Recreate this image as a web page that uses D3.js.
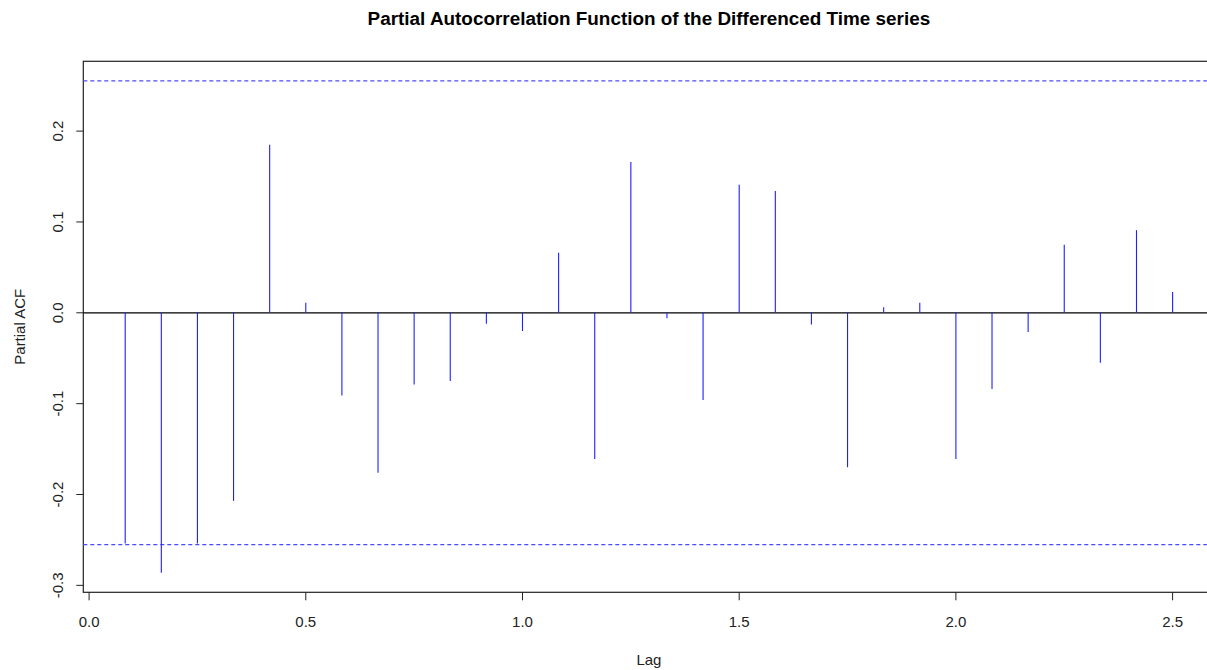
<!DOCTYPE html>
<html lang="en">
<head>
    <meta charset="UTF-8">
    <title>Partial Autocorrelation Function of the Differenced Time series</title>
    <script src="https://d3js.org/d3.v7.min.js"></script>
    <style>
        html, body { margin: 0; padding: 0; background: #fff; overflow: hidden; }
        svg { display: block; font-family: "Liberation Sans", Arial, sans-serif; }
        .tick-label { font-size: 15px; fill: #222; }
        .axis-title { font-size: 15px; fill: #222; }
        .title { font-size: 18.9px; font-weight: bold; fill: #000; }
    </style>
</head>
<body>
<div id="chart"></div>
<script>
    // lags in years (monthly series, frequency 12)
    const lagIndex = d3.range(1, 31);
    const lags = lagIndex.map(k => k / 12);
    const pacf = [
        -0.254, -0.286, -0.254, -0.207, 0.185, 0.011, -0.091, -0.176, -0.079, -0.075,
        -0.012, -0.020, 0.066, -0.161, 0.166, -0.006, -0.096, 0.141, 0.134, -0.013,
        -0.170, 0.006, 0.011, -0.161, -0.084, -0.021, 0.075, -0.055, 0.091, 0.023
    ];
    const ciBound = 0.2552;
    const xTicks = [0.0, 0.5, 1.0, 1.5, 2.0, 2.5];
    const yTicks = [-0.3, -0.2, -0.1, 0.0, 0.1, 0.2];

    const width = 1207, height = 670;
    const plot = { left: 83.3, top: 61.3, right: 1214.5, bottom: 592.3 };

    const svg = d3.select("#chart").append("svg")
        .attr("width", width)
        .attr("height", height);

    // R-style 4% axis extension
    const xr = d3.extent(lags), xpad = (xr[1] - xr[0]) * 0.04;
    const yr = d3.extent(pacf.concat([ciBound, -ciBound])), ypad = (yr[1] - yr[0]) * 0.04;

    const x = d3.scaleLinear().domain([xr[0] - xpad, xr[1] + xpad]).range([plot.left, plot.right]);
    const y = d3.scaleLinear().domain([yr[0] - ypad, yr[1] + ypad]).range([plot.bottom, plot.top]);

    // box
    svg.append("rect")
        .attr("x", plot.left).attr("y", plot.top)
        .attr("width", plot.right - plot.left).attr("height", plot.bottom - plot.top)
        .attr("fill", "none").attr("stroke", "#222").attr("stroke-width", 1.2);

    // zero line
    svg.append("line")
        .attr("x1", plot.left).attr("x2", plot.right)
        .attr("y1", y(0)).attr("y2", y(0))
        .attr("stroke", "#000").attr("stroke-width", 1.2);

    // confidence bounds
    svg.selectAll(".ci")
        .data([ciBound, -ciBound])
        .enter().append("line")
        .attr("class", "ci")
        .attr("x1", plot.left).attr("x2", plot.right)
        .attr("y1", d => y(d)).attr("y2", d => y(d))
        .attr("stroke", "#4a4aff").attr("stroke-width", 1.2)
        .attr("stroke-dasharray", "4,3");

    // pacf spikes
    svg.selectAll(".spike")
        .data(pacf)
        .enter().append("line")
        .attr("class", "spike")
        .attr("x1", (d, i) => x(lags[i])).attr("x2", (d, i) => x(lags[i]))
        .attr("y1", y(0)).attr("y2", d => y(d))
        .attr("stroke", "#1f1fff").attr("stroke-width", 1.1);

    // x axis
    const xAxis = svg.append("g");
    xAxis.selectAll("line")
        .data(xTicks).enter().append("line")
        .attr("x1", d => x(d)).attr("x2", d => x(d))
        .attr("y1", plot.bottom).attr("y2", plot.bottom + 8)
        .attr("stroke", "#222");
    xAxis.selectAll("text")
        .data(xTicks).enter().append("text")
        .attr("class", "tick-label")
        .attr("x", d => x(d)).attr("y", plot.bottom + 34.4)
        .attr("text-anchor", "middle")
        .text(d => d.toFixed(1));

    // y axis
    const yAxis = svg.append("g");
    yAxis.selectAll("line")
        .data(yTicks).enter().append("line")
        .attr("x1", plot.left - 7).attr("x2", plot.left)
        .attr("y1", d => y(d)).attr("y2", d => y(d))
        .attr("stroke", "#222");
    yAxis.selectAll("text")
        .data(yTicks).enter().append("text")
        .attr("class", "tick-label")
        .attr("transform", d => `translate(${plot.left - 20},${y(d)}) rotate(-90)`)
        .attr("text-anchor", "middle")
        .text(d => d.toFixed(1));

    // titles
    svg.append("text")
        .attr("class", "title")
        .attr("x", (plot.left + plot.right) / 2).attr("y", 25)
        .attr("text-anchor", "middle")
        .text("Partial Autocorrelation Function of the Differenced Time series");

    svg.append("text")
        .attr("class", "axis-title")
        .attr("x", (plot.left + plot.right) / 2).attr("y", 665)
        .attr("text-anchor", "middle")
        .text("Lag");

    svg.append("text")
        .attr("class", "axis-title")
        .attr("transform", `translate(25,${(plot.top + plot.bottom) / 2}) rotate(-90)`)
        .attr("text-anchor", "middle")
        .text("Partial ACF");
</script>
</body>
</html>
